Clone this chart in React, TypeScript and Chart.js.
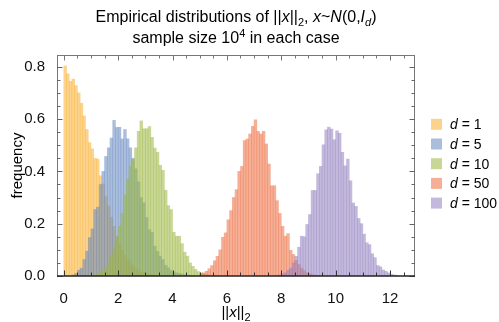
import React, { useEffect, useRef } from 'react';
import { Chart, registerables } from 'chart.js';

Chart.register(...registerables);

// ---- data (histogram bin heights, bin width 0.1) ----
const BIN_WIDTH = 0.1;
const dimLabels = ['1', '5', '10', '50', '100'];
const binStarts = [0.0, 0.3, 1.0, 5.0, 7.8];

const freqD1 = [0.803, 0.773, 0.744, 0.753, 0.728, 0.700, 0.660, 0.612, 0.560, 0.510, 0.486, 0.450, 0.447, 0.383, 0.352, 0.304, 0.268, 0.225, 0.190, 0.152, 0.122, 0.098, 0.080, 0.064, 0.050, 0.040, 0.030, 0.022, 0.016, 0.012, 0.009, 0.006, 0.004, 0.003, 0.002, 0.001];
const freqD5 = [0.004, 0.010, 0.022, 0.030, 0.063, 0.095, 0.147, 0.180, 0.254, 0.263, 0.350, 0.400, 0.457, 0.490, 0.527, 0.595, 0.568, 0.568, 0.524, 0.560, 0.524, 0.490, 0.450, 0.410, 0.360, 0.300, 0.280, 0.224, 0.177, 0.167, 0.114, 0.094, 0.076, 0.063, 0.041, 0.031, 0.021, 0.015, 0.012, 0.010, 0.008, 0.005, 0.003, 0.002];
const freqD10 = [0.002, 0.004, 0.008, 0.012, 0.020, 0.032, 0.050, 0.075, 0.110, 0.146, 0.190, 0.240, 0.310, 0.370, 0.420, 0.445, 0.490, 0.553, 0.593, 0.563, 0.563, 0.571, 0.530, 0.489, 0.473, 0.423, 0.404, 0.328, 0.269, 0.254, 0.167, 0.152, 0.152, 0.124, 0.091, 0.076, 0.050, 0.037, 0.025, 0.017, 0.012, 0.008, 0.005, 0.003, 0.002, 0.001];
const freqD50 = [0.008, 0.012, 0.018, 0.028, 0.040, 0.058, 0.075, 0.100, 0.148, 0.165, 0.215, 0.250, 0.300, 0.330, 0.400, 0.419, 0.518, 0.524, 0.543, 0.572, 0.597, 0.553, 0.543, 0.553, 0.505, 0.428, 0.345, 0.345, 0.288, 0.239, 0.190, 0.152, 0.162, 0.098, 0.082, 0.060, 0.044, 0.030, 0.020, 0.012, 0.008, 0.005, 0.003, 0.002];
const freqD100 = [0.002, 0.004, 0.008, 0.012, 0.022, 0.030, 0.050, 0.075, 0.110, 0.152, 0.150, 0.197, 0.235, 0.327, 0.327, 0.391, 0.419, 0.502, 0.559, 0.569, 0.562, 0.521, 0.555, 0.546, 0.473, 0.421, 0.447, 0.364, 0.279, 0.266, 0.220, 0.200, 0.160, 0.127, 0.120, 0.085, 0.070, 0.040, 0.035, 0.023, 0.018, 0.012, 0.006, 0.004, 0.002];
const allFreqs = [freqD1, freqD5, freqD10, freqD50, freqD100];

const xTickValues = [0, 2, 4, 6, 8, 10, 12];
const yTickValues = [0, 0.2, 0.4, 0.6, 0.8];

// ---- styles ----
const FONT = '"Liberation Sans", Arial, sans-serif';
const barColors = [
  'rgba(250,175,46,0.55)',
  'rgba(100,137,191,0.55)',
  'rgba(155,182,64,0.55)',
  'rgba(237,110,64,0.55)',
  'rgba(146,128,191,0.55)',
];
const X_MIN = -0.25;
const X_MAX = 12.92;
const Y_MAX = 0.845;

type Seg = { t: string; i?: boolean; sub?: boolean; sup?: boolean };

function drawRich(ctx: CanvasRenderingContext2D, segs: Seg[], x: number, baseline: number, size: number, align: 'center' | 'left') {
  const fontFor = (s: Seg) => `${s.i ? 'italic ' : ''}${s.sub || s.sup ? Math.round(size * 0.7) : size}px ${FONT}`;
  let w = 0;
  for (const s of segs) {
    ctx.font = fontFor(s);
    w += ctx.measureText(s.t).width;
  }
  let cx = align === 'center' ? x - w / 2 : x;
  ctx.textAlign = 'left';
  ctx.textBaseline = 'alphabetic';
  for (const s of segs) {
    ctx.font = fontFor(s);
    const dy = s.sub ? size * 0.28 : s.sup ? -size * 0.4 : 0;
    ctx.fillText(s.t, cx, baseline + dy);
    cx += ctx.measureText(s.t).width;
  }
}

const decorPlugin = {
  id: 'decor',
  afterDraw(chart: any) {
    const { ctx, chartArea: a, scales } = chart;
    const xs = scales.x;
    const ys = scales.y;
    ctx.save();
    const line = (x1: number, y1: number, x2: number, y2: number) => {
      ctx.beginPath();
      ctx.moveTo(x1, y1);
      ctx.lineTo(x2, y2);
      ctx.stroke();
    };
    // frame
    ctx.strokeStyle = '#777';
    ctx.lineWidth = 1;
    line(a.left + 0.5, a.top, a.left + 0.5, a.bottom);
    line(a.right - 0.5, a.top, a.right - 0.5, a.bottom);
    line(a.left, a.top + 0.5, a.right, a.top + 0.5);
    // ticks x
    for (let i = 0; i * 0.5 <= X_MAX; i++) {
      const v = i * 0.5;
      if (v < X_MIN) continue;
      const px = Math.round(xs.getPixelForValue(v)) + 0.5;
      const len = i % 4 === 0 ? 5.5 : 3.5;
      ctx.strokeStyle = '#333';
      line(px, a.bottom, px, a.bottom - len);
      ctx.strokeStyle = '#777';
      line(px, a.top, px, a.top + len);
    }
    // ticks y
    ctx.strokeStyle = '#666';
    for (let i = 0; i * 0.05 <= Y_MAX + 1e-9; i++) {
      const v = i * 0.05;
      const py = Math.round(ys.getPixelForValue(v)) + 0.5;
      const len = i % 4 === 0 ? 5.5 : 3.5;
      line(a.left, py, a.left + len, py);
      line(a.right, py, a.right - len, py);
    }
    // bottom axis line
    ctx.strokeStyle = '#222';
    ctx.lineWidth = 1.6;
    line(a.left, a.bottom, a.right, a.bottom);

    ctx.fillStyle = '#000';
    const cx = (a.left + a.right) / 2;
    // title
    drawRich(ctx, [
      { t: 'Empirical distributions of ||' }, { t: 'x', i: true }, { t: '||' }, { t: '2', sub: true },
      { t: ', ' }, { t: 'x', i: true }, { t: '~' }, { t: 'N', i: true }, { t: '(0,' }, { t: 'I', i: true },
      { t: 'd', i: true, sub: true }, { t: ')' },
    ], cx, 22, 16, 'center');
    drawRich(ctx, [{ t: 'sample size 10' }, { t: '4', sup: true }, { t: ' in each case' }], cx, 43, 16, 'center');
    // x axis title
    drawRich(ctx, [{ t: '||' }, { t: 'x', i: true }, { t: '||' }, { t: '2', sub: true }], cx, 317, 15, 'center');
    // y axis title
    ctx.save();
    ctx.translate(18, (a.top + a.bottom) / 2);
    ctx.rotate(-Math.PI / 2);
    ctx.font = `15px ${FONT}`;
    ctx.textAlign = 'center';
    ctx.textBaseline = 'middle';
    ctx.fillText('frequency', 0, 0);
    ctx.restore();
    // legend
    dimLabels.forEach((lab, i) => {
      const yc = 124.3 + i * 19.7;
      ctx.fillStyle = barColors[i];
      ctx.fillRect(431, yc - 5.5, 11, 11);
      ctx.fillStyle = '#000';
      drawRich(ctx, [{ t: 'd', i: true }, { t: ' = ' + lab }], 450, yc + 5, 14, 'left');
    });
    ctx.restore();
  },
};

export default function App() {
  const ref = useRef<HTMLCanvasElement | null>(null);
  useEffect(() => {
    document.body.style.margin = '0';
    if (!ref.current) return;
    const datasets = allFreqs.map((vals, i) => ({
      label: 'd = ' + dimLabels[i],
      data: vals.map((v, k) => ({ x: Math.round((binStarts[i] + (k + 0.5) * BIN_WIDTH) * 1000) / 1000, y: v })),
      backgroundColor: barColors[i],
      borderWidth: 0,
      barPercentage: 1,
      categoryPercentage: 1,
      grouped: false,
      order: allFreqs.length - i,
    }));
    const chart = new Chart(ref.current, {
      type: 'bar',
      data: { datasets },
      plugins: [decorPlugin],
      options: {
        animation: false,
        responsive: false,
        layout: { padding: { left: 0, top: 55, right: 84, bottom: 0 } },
        plugins: { legend: { display: false }, title: { display: false }, tooltip: { enabled: false } },
        scales: {
          x: {
            type: 'linear',
            min: X_MIN,
            max: X_MAX,
            offset: false,
            grid: { display: false },
            border: { display: false },
            afterFit: (s: any) => { s.height = 46; },
            afterBuildTicks: (s: any) => { s.ticks = xTickValues.map((v) => ({ value: v })); },
            ticks: { color: '#111', font: { family: FONT, size: 15 }, padding: 6, maxRotation: 0, autoSkip: false, callback: (v: any) => String(v) },
          },
          y: {
            type: 'linear',
            min: 0,
            max: Y_MAX,
            grid: { display: false },
            border: { display: false },
            afterFit: (s: any) => { s.width = 57; },
            afterBuildTicks: (s: any) => { s.ticks = yTickValues.map((v) => ({ value: v })); },
            ticks: { color: '#111', font: { family: FONT, size: 15 }, padding: 4, callback: (v: any) => Number(v).toFixed(1) },
          },
        },
      },
    });
    return () => chart.destroy();
  }, []);
  return (
    <div style={{ position: 'absolute', left: 0, top: 0, width: 499, height: 322 }}>
      <canvas ref={ref} width={499} height={322} />
    </div>
  );
}
